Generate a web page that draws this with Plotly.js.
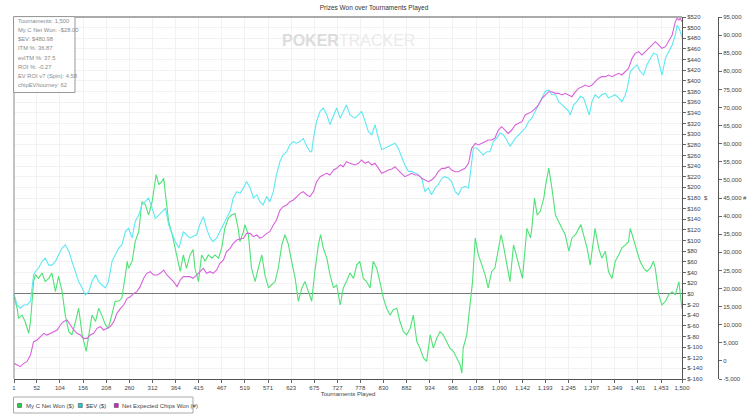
<!DOCTYPE html>
<html><head><meta charset="utf-8">
<script src="https://cdn.plot.ly/plotly-3.0.1.min.js"></script>
<style>html,body{margin:0;padding:0;background:#fff}#chart{width:748px;height:418px}</style>
</head><body><div id="chart"></div>
<script>
// ---------- DATA ----------
const netWonT = [1,8,11,19,26,34,38,41,45,49,56,64,71,79,86,94,101,109,116,124,131,139,146,154,163,169,176,184,191,198,206,213,221,228,236,243,251,255,258,266,273,281,288,296,303,311,320,326,333,337,341,348,356,363,371,374,
381,388,396,403,407,415,422,430,437,445,452,460,467,474,482,489,497,504,508,516,519,527,534,542,549,557,564,572,579,587,594,602,609,617,624,632,639,647,654,661,669,676,684,689,695,703,710,718,725,733,740,747,755,
763,770,777,785,792,800,807,815,822,830,837,845,852,860,867,875,882,890,897,905,912,920,927,935,942,950,957,964,972,979,987,994,1002,1006,1009,1017,1024,1030,1036,1043,1051,1058,1065,1073,1080,1088,1094,1099,1107,1114,
1122,1130,1137,1142,1148,1152,1160,1163,1169,1175,1182,1190,1193,1201,1208,1216,1223,1231,1238,1246,1253,1261,1268,1273,1279,1287,1294,1302,1305,1313,1320,1328,1335,1343,1350,1358,1365,1373,1380,1384,1392,1399,1406,1414,1421,1429,1436,1440,1448,1455,1463,1470,1478,1485,1493,1496,1500];
const netWonUSD = [-5,-27,-46,-40,-52,-74,-52,-21,23,36,29,39,23,29,39,4,33,4,-40,-71,-77,-52,-27,-77,-108,-77,-40,-52,-27,-40,-58,-65,-40,-14,-14,-8,36,61,48,61,98,117,173,167,148,173,224,205,211,217,186,136,111,86,54,42,
73,48,73,83,48,23,73,61,73,67,73,67,86,123,142,148,151,123,98,117,130,111,48,23,48,73,36,11,17,23,48,92,111,92,61,29,-14,11,23,4,-14,42,92,111,86,67,36,11,17,-21,11,23,39,
29,54,61,29,23,11,61,48,23,-8,-27,-40,-30,-27,-52,-71,-77,-65,-40,-90,-102,-121,-127,-77,-102,-83,-71,-77,-90,-102,-108,-121,-133,-149,-102,-77,-21,23,105,73,54,36,11,42,48,86,111,92,54,23,
92,67,48,29,86,123,105,123,180,148,155,180,199,236,199,148,136,123,111,80,105,111,123,130,111,86,54,98,123,86,67,80,42,29,61,73,86,92,98,123,98,80,61,48,42,48,61,48,-2,-21,-14,-2,4,-2,23,-2,-28];

const evT = [1,8,15,23,30,38,45,49,56,64,71,79,86,94,101,109,116,124,131,139,146,154,161,169,176,184,191,198,206,213,221,228,236,243,251,258,266,273,281,288,296,303,311,318,326,333,341,348,356,363,371,
381,388,396,403,411,418,426,433,441,448,456,463,471,478,486,493,501,508,516,523,531,538,546,553,560,568,575,583,590,598,605,613,620,628,635,643,650,658,665,669,673,680,688,695,703,710,718,725,733,740,747,755,
766,774,781,789,796,804,811,819,826,834,841,849,856,863,871,878,886,893,901,908,916,923,931,938,946,953,961,968,976,983,991,998,1006,1013,1021,1024,1032,1039,1047,1054,1062,1069,1077,1084,1092,1099,1107,1114,
1126,1133,1141,1148,1156,1163,1171,1178,1186,1193,1201,1208,1216,1223,1231,1238,1246,1249,1257,1264,1272,1279,1287,1292,1298,1305,1313,1320,1328,1335,1343,1350,1358,1365,1373,1377,1384,1392,1399,1406,1414,1421,1429,1436,1444,1451,1455,1463,1470,1478,1485,1489,1493,1496,1500];
const evUSD = [0,-21,-27,-21,-21,-14,36,42,48,61,67,54,54,61,73,86,92,80,61,42,23,11,-2,4,23,36,23,17,11,23,61,73,86,92,117,123,105,136,148,167,173,180,161,142,148,155,161,130,111,98,86,
117,111,105,108,111,130,145,123,105,98,105,117,130,142,155,180,192,189,199,211,199,180,186,173,167,183,173,192,224,249,261,267,280,286,283,286,292,277,267,267,292,324,343,349,336,318,336,349,330,343,355,336,
330,336,343,324,305,299,318,292,271,274,277,280,283,274,255,242,230,230,227,224,217,192,199,186,199,205,217,220,217,211,192,186,199,202,199,217,274,274,267,261,267,267,286,292,302,299,289,277,
292,299,305,311,324,330,343,355,368,380,383,374,374,361,355,349,343,336,355,361,371,368,349,336,361,374,368,374,377,368,371,374,368,361,374,386,418,424,430,418,411,430,443,452,449,424,411,443,455,468,486,505,499,493,481];

const chipsT = [1,8,15,23,30,38,45,53,60,68,75,83,90,98,105,112,120,127,135,142,150,157,165,172,180,187,195,202,210,217,225,232,240,247,255,262,270,277,284,292,299,307,314,322,329,337,344,352,359,367,374,
381,388,396,403,411,418,426,433,441,448,456,463,471,478,486,493,501,508,516,523,531,538,546,553,560,568,575,583,590,598,605,613,620,628,635,643,650,658,665,673,680,688,695,703,710,718,725,733,740,747,755,
766,774,781,789,796,804,811,819,826,834,841,849,856,863,871,878,886,893,901,908,916,923,931,938,946,953,961,968,976,983,991,998,1006,1013,1021,1028,1036,1043,1051,1058,1065,1073,1080,1088,1095,1103,1110,1118,
1126,1133,1141,1148,1156,1163,1171,1178,1186,1193,1201,1208,1216,1223,1231,1238,1246,1253,1261,1268,1276,1283,1291,1298,1305,1313,1320,1328,1335,1343,1350,1358,1365,1373,1380,1388,1395,1403,1410,1418,1425,1433,1440,1448,1455,1463,1470,1478,1485,1489,1493,1496,1500];
const chipsWon = [-670,-1130,-1590,-670,-210,1630,5310,5770,6690,7620,7150,7620,8080,8540,9920,10840,11300,9920,8540,7620,7150,6230,6230,7150,7620,9000,9460,8540,9000,9460,10840,13140,14520,15440,17280,17740,18660,19130,20510,22810,24190,24650,23730,23730,24190,25110,23730,22810,21890,20510,22350,
23270,23270,23270,22810,23730,24650,25570,24190,24650,24190,25110,26950,27870,30170,31100,32480,33400,33670,33860,35240,35240,34320,34780,33860,34320,35240,35700,37540,38920,41680,42610,43070,43990,44450,45370,46290,46750,45830,45370,46750,49510,50890,51350,51810,51350,52730,53190,54120,53660,55040,54580,
54120,54580,55500,54580,55040,54120,54580,53190,51810,52270,52730,53010,53660,52730,51810,50890,51350,51810,51350,51350,50430,49970,49510,49970,50890,52270,53190,53190,53660,52730,52270,52270,52730,53190,54580,58720,60100,59640,60100,60560,61020,61020,61480,63780,64700,63780,62860,63780,
65170,65630,66090,67930,68390,68850,69770,70690,72530,73450,74370,74370,73910,73910,73450,73910,73450,72990,74370,75290,75750,76210,75750,76210,77140,78060,78520,78520,78980,78520,78980,79440,78980,79900,80820,83580,84960,85420,84500,85420,86340,87260,88190,87260,86340,86800,88190,90030,93710,94630,94170,94630,93710];

const xTickVals = [1,52,104,156,208,260,312,364,415,467,519,571,623,675,727,778,830,882,934,986,1038,1090,1142,1193,1245,1297,1349,1401,1453,1500];
const seriesNames = ['My C Net Won ($)', '$EV ($)', 'Net Expected Chips Won (#)'];
const statLines = ['Tournaments: 1,500','My C Net Won: -$28.00','$EV: $480.98','ITM %: 36.87','evITM %: 37.5','ROI %: -0.27','EV ROI v7 (Spin): 4.58','chipEV/tourney: 62'];

// ---------- TICKS ----------
const fmt = n => (n < 0 ? '-' : '') + Math.abs(n).toLocaleString('en-US');
const xTickText = xTickVals.map(fmt);
const usdTicks = []; for (let v = -160; v <= 520; v += 20) usdTicks.push(v);
const usdText = usdTicks.map(v => '$' + v);
const chipTicks = []; for (let v = -5000; v <= 95000; v += 5000) chipTicks.push(v);
const chipText = chipTicks.map(fmt);

// ---------- STYLE / GEOMETRY ----------
const ML = 14, MR = 10, MT = 17, MB = 39, W = 748, H = 418;
const PW = W - ML - MR, PH = H - MT - MB;
const px = p => (p - ML) / PW;          // pixel -> paper x
const py = p => (H - MB - p) / PH;      // pixel -> paper y
const domEnd = px(682);
const colors = ['#4fe276', '#5ee8f2', '#d862dc'];
const legendColors = ['#22cc44', '#22cccc', '#cc22cc'];
const FONT = 'Liberation Sans, Arial, sans-serif';

const traces = [
  {x: netWonT, y: netWonUSD, name: seriesNames[0], type: 'scatter', mode: 'lines', line: {color: colors[0], width: 1.1}, yaxis: 'y'},
  {x: evT, y: evUSD, name: seriesNames[1], type: 'scatter', mode: 'lines', line: {color: colors[1], width: 1.1}, yaxis: 'y'},
  {x: chipsT, y: chipsWon, name: seriesNames[2], type: 'scatter', mode: 'lines', line: {color: colors[2], width: 1.1}, yaxis: 'y2'}
];

const shapes = [
  {type: 'line', xref: 'paper', yref: 'paper', x0: 0, x1: domEnd, y0: 1, y1: 1, line: {color: '#aaaaaa', width: 2}},
  {type: 'line', xref: 'paper', yref: 'paper', x0: 0, x1: 0, y0: 0, y1: 1, line: {color: '#888888', width: 1}},
  {type: 'rect', xref: 'paper', yref: 'paper', x0: px(13.5), x1: px(75), y0: py(16.5), y1: py(92.5), line: {color: '#999999', width: 1}, fillcolor: 'rgba(255,255,255,0.9)'},
  {type: 'rect', xref: 'paper', yref: 'paper', x0: px(13.5), x1: px(193), y0: py(397), y1: py(413), line: {color: '#aaaaaa', width: 1}, fillcolor: '#ffffff'}
];
const legendSq = [17.5, 78.3, 114.3];
const legendTx = [23.5, 83.7, 119.7];
legendSq.forEach((x, i) => shapes.push({type: 'rect', xref: 'paper', yref: 'paper', x0: px(x), x1: px(x + 4), y0: py(403.5), y1: py(407.5), line: {color: '#555555', width: 0.6}, fillcolor: legendColors[i]}));

const annotations = [];
statLines.forEach((t, i) => annotations.push({text: t, xref: 'paper', yref: 'paper', x: px(16), y: py(21.3 + i * 9.06), xanchor: 'left', yanchor: 'middle', showarrow: false, font: {size: 5.8, color: '#8a8a8a', family: FONT}}));
seriesNames.forEach((t, i) => annotations.push({text: t, xref: 'paper', yref: 'paper', x: px(legendTx[i]), y: py(405.5), xanchor: 'left', yanchor: 'middle', showarrow: false, font: {size: 6, color: '#444', family: FONT}}));
annotations.push({text: '<b><span style="color:#dcdcdc">POKER</span></b><span style="color:#ebebeb">TRACKER</span>', xref: 'paper', yref: 'paper', x: px(348), y: py(40), xanchor: 'center', yanchor: 'middle', showarrow: false, font: {size: 16, family: FONT}});
annotations.push({text: '$', xref: 'paper', yref: 'paper', x: px(706), y: py(198), xanchor: 'center', yanchor: 'middle', showarrow: false, font: {size: 6, color: '#444', family: FONT}});
annotations.push({text: '#', xref: 'paper', yref: 'paper', x: px(745), y: py(198), xanchor: 'center', yanchor: 'middle', showarrow: false, font: {size: 6, color: '#444', family: FONT}});

const axisCommon = {ticks: 'outside', ticklen: 3, tickcolor: '#666', showline: true, linecolor: '#555', linewidth: 1, tickfont: {size: 6, color: '#444', family: FONT}, fixedrange: true};

const layout = {
  width: W, height: H,
  margin: {l: ML, r: MR, t: MT, b: MB, pad: 0},
  paper_bgcolor: '#ffffff', plot_bgcolor: '#ffffff',
  font: {family: FONT, size: 6, color: '#444'},
  showlegend: false,
  title: {text: 'Prizes Won over Tournaments Played', xref: 'container', x: 0.5, yref: 'container', y: 1 - 8 / H, yanchor: 'middle', font: {size: 6.5, color: '#333', family: FONT}},
  xaxis: Object.assign({}, axisCommon, {
    domain: [0, domEnd], range: [1, 1500], tickmode: 'array', tickvals: xTickVals, ticktext: xTickText,
    showgrid: true, gridcolor: '#f2f2f2', zeroline: false,
    title: {text: 'Tournaments Played', standoff: 1, font: {size: 6, color: '#444', family: FONT}}
  }),
  yaxis: Object.assign({}, axisCommon, {
    side: 'right', anchor: 'x', range: [-160, 520], tickmode: 'array', tickvals: usdTicks, ticktext: usdText,
    showgrid: true, gridcolor: '#f2f2f2', zeroline: true, zerolinecolor: '#777777', zerolinewidth: 1
  }),
  yaxis2: Object.assign({}, axisCommon, {
    overlaying: 'y', side: 'right', anchor: 'free', position: px(718), range: [-5000, 95000],
    tickmode: 'array', tickvals: chipTicks, ticktext: chipText, showgrid: false, zeroline: false
  }),
  shapes: shapes,
  annotations: annotations
};

Plotly.newPlot('chart', traces, layout, {staticPlot: true, displayModeBar: false});
</script>
</body></html>
